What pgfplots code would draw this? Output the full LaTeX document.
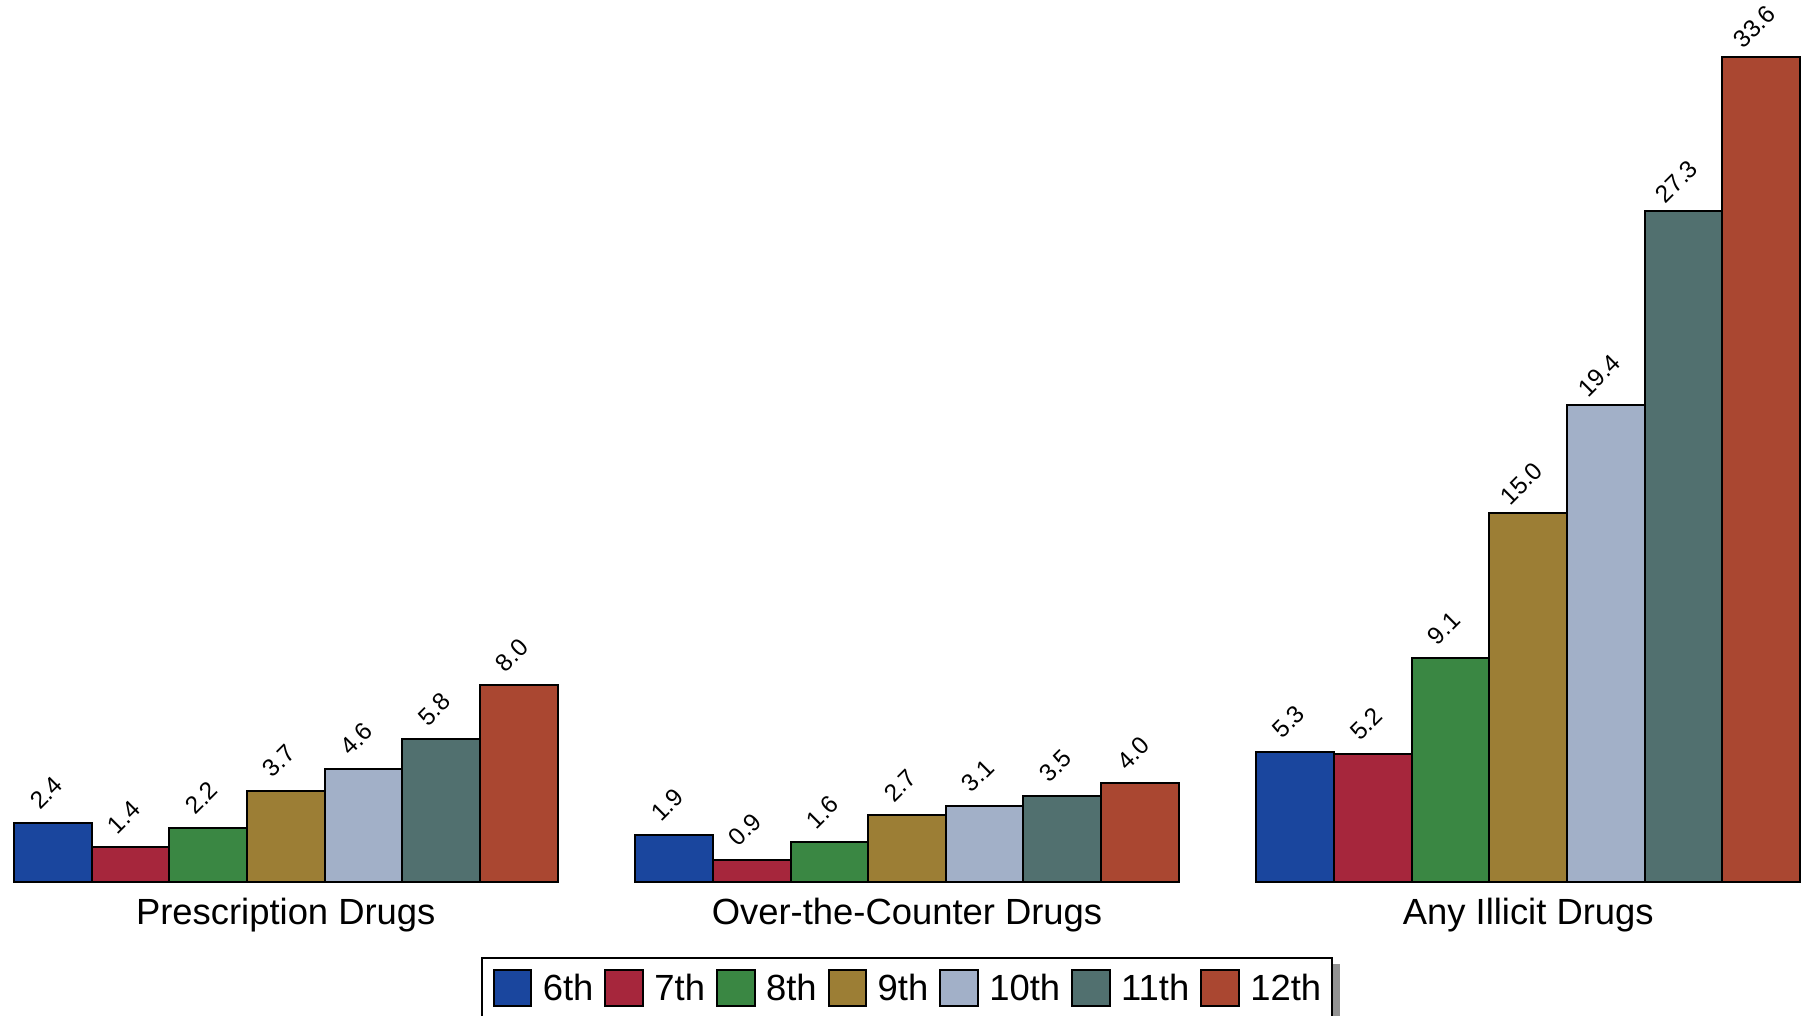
\documentclass[border=0pt]{standalone}
\usepackage{pgfplots}
\pgfplotsset{compat=1.18}
\usepackage{fontspec}
\setmainfont{Liberation Sans}
\usetikzlibrary{backgrounds}
\definecolor{c6}{HTML}{1A469E}
\definecolor{c7}{HTML}{A6263C}
\definecolor{c8}{HTML}{3A8743}
\definecolor{c9}{HTML}{9C7E35}
\definecolor{c10}{HTML}{A2B0C8}
\definecolor{c11}{HTML}{51706F}
\definecolor{c12}{HTML}{AA4731}
\begin{document}
\begin{tikzpicture}
\begin{axis}[
  scale only axis,
  width=446.5pt, height=220.4pt,
  xmin=-0.5, xmax=22.5, ymin=0, ymax=35.91,
  enlargelimits=false,
  clip=false,
  axis line style={draw=none},
  tick style={draw=none},
  ytick=\empty,
  xtick={3,11,19},
  xticklabels={Prescription Drugs, Over-the-Counter Drugs, Any Illicit Drugs},
  xticklabel style={anchor=base, yshift=-10.75pt, inner sep=0pt, font=\fontsize{9.1}{10}\selectfont},
  every axis plot/.append style={ybar, bar width=1, bar shift=0pt, draw=black, line width=0.5pt},
  nodes near coords={\pgfmathprintnumber[fixed, fixed zerofill, precision=1, assume math mode=true]{\pgfplotspointmeta}},
  every node near coord/.append style={font=\fontsize{6.1}{7}\selectfont, anchor=south, inner sep=0pt, yshift=5.8pt, rotate=45, text=black},
  legend columns=7,
  legend cell align=left,
  legend style={name=leg, at={(0.5,-0.0854)}, anchor=north, draw=black, line width=0.5pt, inner xsep=2.75pt, inner ysep=2.75pt,
    font=\fontsize{9.1}{10}\selectfont, fill=white,
    nodes={inner sep=0pt, anchor=base},
    /tikz/every odd column/.append style={column sep=2.6pt},
    /tikz/every even column/.append style={column sep=2.75pt}},
  legend image code/.code={\draw[#1, line width=0.5pt] (0pt,-1.4pt) rectangle (9.4pt,7.6pt);},
]
\addplot[fill=c6] coordinates {(0,2.4) (8,1.9) (16,5.3)};
\addplot[fill=c7] coordinates {(1,1.4) (9,0.9) (17,5.2)};
\addplot[fill=c8] coordinates {(2,2.2) (10,1.6) (18,9.1)};
\addplot[fill=c9] coordinates {(3,3.7) (11,2.7) (19,15.0)};
\addplot[fill=c10] coordinates {(4,4.6) (12,3.1) (20,19.4)};
\addplot[fill=c11] coordinates {(5,5.8) (13,3.5) (21,27.3)};
\addplot[fill=c12] coordinates {(6,8.0) (14,4.0) (22,33.6)};
\legend{6th,7th,8th,9th,10th,11th,12th}
\coordinate (BL) at (axis cs:-0.680,-5.471);
\coordinate (TR) at (axis cs:22.577,35.91);
\end{axis}
\begin{scope}[on background layer]
\fill[gray!85] ([xshift=1.75pt,yshift=-1.75pt]leg.south west) rectangle ([xshift=1.75pt,yshift=-1.75pt]leg.north east);
\end{scope}
\pgfresetboundingbox
\useasboundingbox (BL) rectangle (TR);
\end{tikzpicture}
\end{document}
